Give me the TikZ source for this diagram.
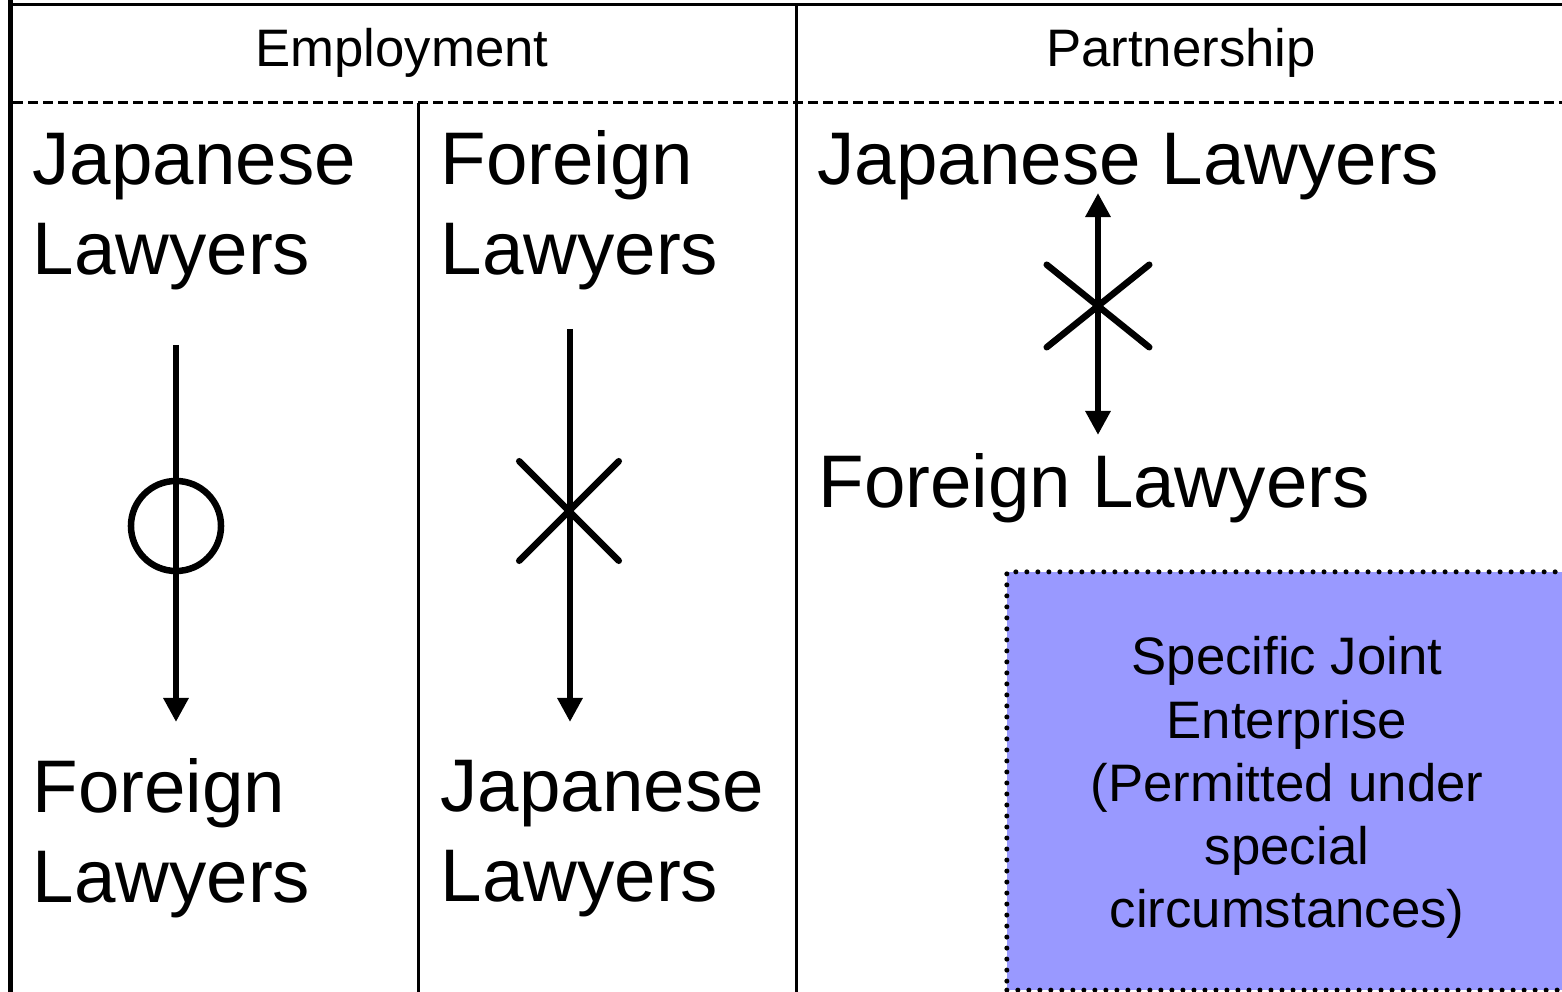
\documentclass[tikz,border=0pt]{standalone}
\usepackage{fontspec}
\setmainfont{Liberation Sans}
\usetikzlibrary{arrows.meta,shapes.misc}

\tikzset{
  bigtext/.style={font=\fontsize{21.2}{25.6}\selectfont, align=left, inner sep=0pt, anchor=base west},
  headtext/.style={font=\fontsize{15}{18}\selectfont, inner sep=0pt, anchor=base},
  rule/.style={line width=0.3mm},
  arr/.style={line width=0.6mm, -{Triangle[width=2.4mm,length=2.4mm]}},
  darr/.style={line width=0.6mm, {Triangle[width=2.4mm,length=2.4mm]}-{Triangle[width=2.4mm,length=2.4mm]}},
  nomark/.style={cross out, draw, line width=0.65mm, line cap=round, inner sep=0pt},
  okmark/.style={circle, draw, line width=0.65mm, inner sep=0pt, minimum size=0.9cm}
}

\begin{document}
\begin{tikzpicture}[x=0.01cm, y=-0.01cm]
\useasboundingbox (0,0) rectangle (1562,992);
% frame
\draw [rule] (10,5) -- (1562,5);
\draw [line width=0.55mm] (10.5,0) -- (10.5,992);
\draw [rule, dash pattern=on 1mm off 0.5mm] (13,103) -- (1562,103);
\draw [rule] (796,5) -- (796,992);
\draw [rule] (418,103) -- (418,992);
% headings
\node [headtext] (employment) at (402,67) {Employment};
\node [headtext] (partnership) at (1181,67) {Partnership};
% employment: japanese -> foreign (anchor = last line)
\node [bigtext] (jp-emp) at (32,275) {Japanese\\Lawyers};
\node [bigtext] (fr-emped) at (32,903) {Foreign\\Lawyers};
\coordinate (emp1-from) at (176,345);
\coordinate (emp1-to) at (176,722);
\draw [arr] (emp1-from) -- (emp1-to);
\node [okmark] (emp1-ok) at (176,526) {};
% employment: foreign -> japanese
\node [bigtext] (fr-emp) at (440,275) {Foreign\\Lawyers};
\node [bigtext] (jp-emped) at (440,902) {Japanese\\Lawyers};
\coordinate (emp2-from) at (570,329);
\coordinate (emp2-to) at (570,722);
\draw [arr] (emp2-from) -- (emp2-to);
\node [nomark, minimum width=0.93cm, minimum height=0.93cm] (emp2-no) at (569,511) {};
% partnership
\node [bigtext] (jp-part) at (817,185) {Japanese Lawyers};
\node [bigtext] (fr-part) at (818,508) {Foreign Lawyers};
\coordinate (part-top) at (1098,193);
\coordinate (part-bot) at (1098,435);
\draw [darr] (part-top) -- (part-bot);
\node [nomark, minimum width=0.96cm, minimum height=0.76cm] (part-no) at (1098,306) {};
% joint enterprise
\node [draw, fill={rgb,255:red,153;green,153;blue,255}, line width=0.5mm, line cap=round,
       dash pattern=on 0pt off 1.1mm, minimum width=5.6cm, minimum height=4.18cm, inner sep=0pt]
       (joint) at (1287,781) {};
\node [headtext, align=center] (joint-text) at (1287,928)
       {Specific Joint\\Enterprise\\(Permitted under\\special\\circumstances)};
\end{tikzpicture}
\end{document}
